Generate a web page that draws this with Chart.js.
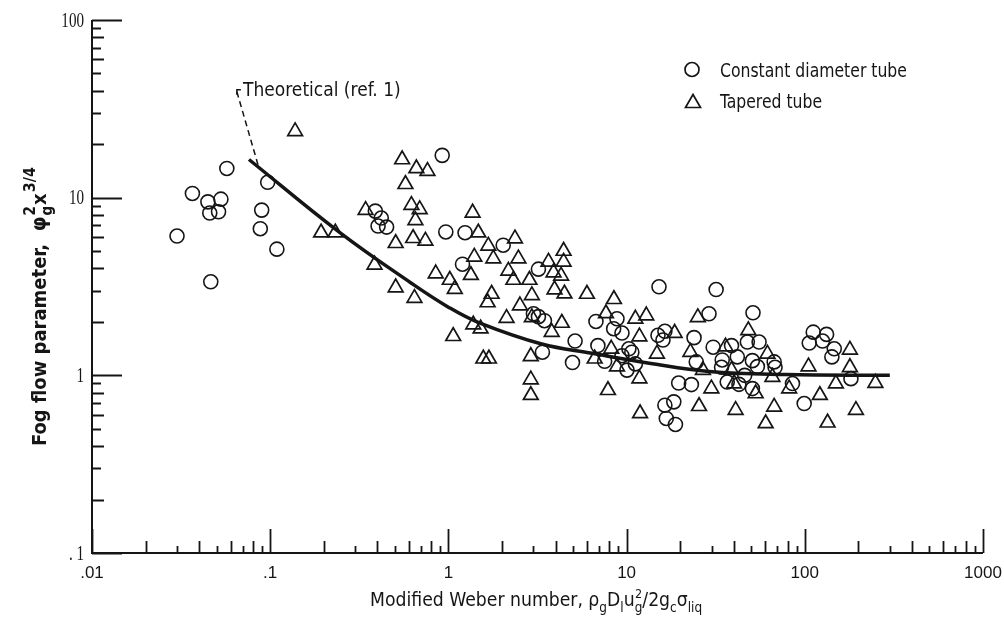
<!DOCTYPE html>
<html>
<head>
<meta charset="utf-8">
<script src="https://cdn.jsdelivr.net/npm/chart.js@4.4.1/dist/chart.umd.min.js"></script>
<style>
  html, body { margin: 0; padding: 0; background: #fff; }
  canvas { display: block; }
</style>
</head>
<body>
<canvas id="fog" width="1004" height="624"></canvas>
<script>
// Constant diameter tube (circles)
var constX = [0.030, 0.0366, 0.0447, 0.0529, 0.0458, 0.0513, 0.0571, 0.0464, 0.0968, 0.0896,
              0.088, 0.109, 0.389, 0.42, 0.403, 0.45, 0.923, 0.967, 1.24, 2.03,
              1.20, 3.20, 3.00, 3.20, 3.46, 5.14, 3.37, 4.97, 6.73, 8.83,
              8.46, 9.42, 6.90, 7.53, 10.3, 10.7, 9.42, 11.2, 10.05, 15.2,
              31.8, 29.0, 51.2, 15.0, 16.4, 16.0, 23.9, 30.6, 38.8, 41.8,
              34.4, 34.1, 47.6, 55.4, 50.8, 54.2, 67.3, 68.1, 46.0, 36.7,
              42.7, 50.8, 19.6, 23.1, 24.6, 85.3, 18.4, 16.4, 16.7, 18.8,
              99.2, 111.5, 132.5, 105.9, 125.8, 146.3, 141.9, 181.5];
var constY = [6.08, 10.56, 9.47, 9.81, 8.19, 8.33, 14.6, 3.36, 12.2, 8.51,
              6.69, 5.13, 8.40, 7.68, 6.92, 6.83, 17.3, 6.41, 6.35, 5.40,
              4.22, 3.96, 2.22, 2.14, 2.03, 1.56, 1.35, 1.18, 2.01, 2.08,
              1.83, 1.73, 1.47, 1.20, 1.41, 1.35, 1.29, 1.16, 1.07, 3.15,
              3.04, 2.22, 2.25, 1.68, 1.77, 1.58, 1.63, 1.44, 1.47, 1.27,
              1.22, 1.11, 1.54, 1.54, 1.21, 1.12, 1.19, 1.11, 1.00, 0.917,
              0.890, 0.842, 0.905, 0.887, 1.19, 0.899, 0.709, 0.679, 0.572, 0.529,
              0.694, 1.75, 1.70, 1.52, 1.56, 1.41, 1.27, 0.958];

// Tapered tube (triangles)
var taperX = [0.138, 0.550, 0.574, 0.620, 0.343, 0.193, 0.232, 0.506, 0.385, 0.506,
              0.661, 0.763, 0.690, 0.653, 0.634, 0.743, 1.367, 1.472, 1.675, 2.364,
              1.397, 1.787, 2.471, 0.849, 1.018, 1.086, 1.337, 1.748, 2.170, 2.316,
              2.849, 3.645, 4.43, 4.43, 3.89, 4.29, 3.94, 4.48, 5.99, 8.49,
              2.94, 0.645, 1.660, 2.52, 2.94, 2.12, 4.33, 3.80, 1.379, 1.516,
              1.064, 1.570, 1.688, 2.90, 2.90, 2.90, 7.66, 11.2, 12.9, 11.8,
              8.20, 6.62, 8.83, 11.8, 7.86, 11.9, 18.6, 25.1, 14.8, 22.8,
              48.2, 35.9, 61.7, 26.8, 38.8, 40.1, 65.8, 104.9, 179.1, 179.1,
              149.4, 249, 29.9, 53.0, 81.7, 121.5, 25.5, 40.9, 67.3, 193.6, 60.3, 134.2];
var taperY = [23.6, 16.4, 11.9, 9.08, 8.51, 6.35, 6.35, 5.54, 4.19, 3.12,
              14.6, 14.1, 8.59, 7.45, 5.91, 5.71, 8.22, 6.35, 5.35, 5.88,
              4.64, 4.54, 4.54, 3.74, 3.44, 3.06, 3.66, 2.87, 3.87, 3.44,
              3.44, 4.35, 5.01, 4.35, 3.79, 3.63, 3.04, 2.88, 2.87, 2.68,
              2.82, 2.72, 2.57, 2.47, 2.12, 2.10, 1.97, 1.75, 1.93, 1.83,
              1.66, 1.24, 1.24, 1.28, 0.946, 0.773, 2.23, 2.08, 2.17, 1.65,
              1.41, 1.24, 1.12, 0.958, 0.824, 0.610, 1.73, 2.12, 1.32, 1.35,
              1.79, 1.45, 1.32, 1.07, 1.07, 0.899, 0.978, 1.12, 1.39, 1.11,
              0.899, 0.905, 0.842, 0.790, 0.842, 0.773, 0.670, 0.637, 0.664, 0.637, 0.536, 0.541];

// Correlation curve and theoretical line (ref. 1)
var curveX = [0.076, 0.244, 0.62, 1.0, 1.48, 3.34, 6.4, 13.4, 29, 78, 300];
var curveY = [16.4, 6.4, 3.3, 2.42, 1.98, 1.5, 1.33, 1.17, 1.05, 1.01, 1.0];
var theoryX = [0.065, 0.0866];
var theoryY = [39.5, 14.6];

// Tick labels
var xTickVals = [0.01, 0.1, 1, 10, 100, 1000];
var xTickLabels = [".01", ".1", "1", "10", "100", "1000"];
var yTickVals = [0.1, 1, 10, 100];
var yTickLabels = [". 1", "1", "10", "100"];

function pairs(xs, ys) {
    return xs.map(function (x, i) { return { x: x, y: ys[i] }; });
}

var ink = "#151515";
var narrow = "'Liberation Sans Narrow', 'DejaVu Sans Condensed', 'Liberation Sans', sans-serif";

// draws axes with inward ticks, labels, titles, legend and the note
var decor = {
    id: "decor",
    afterDraw: function (chart) {
        var ctx = chart.ctx;
        var xs = chart.scales.x, ys = chart.scales.y;
        var left = xs.getPixelForValue(0.01), right = xs.getPixelForValue(1000);
        var bottom = ys.getPixelForValue(0.1), top = ys.getPixelForValue(100);
        ctx.save();
        ctx.strokeStyle = ink;
        ctx.fillStyle = ink;
        ctx.lineWidth = 2;
        ctx.lineCap = "butt";

        ctx.beginPath();
        ctx.moveTo(left, top);
        ctx.lineTo(left, bottom);
        ctx.lineTo(right, bottom);
        ctx.stroke();

        ctx.lineWidth = 1.8;
        ctx.beginPath();
        for (var e = -2; e <= 3; e++) {
            for (var m = 1; m <= 9; m++) {
                var v = m * Math.pow(10, e);
                if (v > 1000.0001) break;
                var px = Math.round(xs.getPixelForValue(v)) + 0.5;
                ctx.moveTo(px, bottom);
                ctx.lineTo(px, bottom - (m === 1 ? 24 : (m % 2 === 0 ? 12 : 7)));
            }
        }
        for (var e2 = -1; e2 <= 2; e2++) {
            for (var m2 = 1; m2 <= 9; m2++) {
                var v2 = m2 * Math.pow(10, e2);
                if (v2 > 100.0001) break;
                var py = Math.round(ys.getPixelForValue(v2)) + 0.5;
                ctx.moveTo(left, py);
                ctx.lineTo(left + (m2 === 1 ? 30 : (m2 % 2 === 0 ? 12 : 9)), py);
            }
        }
        ctx.stroke();

        // x tick labels
        ctx.font = "17px 'Liberation Sans', sans-serif";
        ctx.textAlign = "center";
        ctx.textBaseline = "alphabetic";
        xTickVals.forEach(function (v, i) {
            ctx.fillText(xTickLabels[i], xs.getPixelForValue(v), 578);
        });

        // y tick labels (condensed serif)
        ctx.font = "21px 'Liberation Serif', serif";
        ctx.textAlign = "right";
        ctx.textBaseline = "middle";
        yTickVals.forEach(function (v, i) {
            ctx.save();
            ctx.translate(84, ys.getPixelForValue(v));
            ctx.scale(0.72, 1);
            ctx.fillText(yTickLabels[i], 0, 1);
            ctx.restore();
        });

        // rich text: parts of [text, dy, size, dx]
        function rich(parts, x, y, bold) {
            var cx = x;
            parts.forEach(function (p) {
                ctx.font = (bold ? "bold " : "") + p[2] + "px " + narrow;
                cx += p[3] || 0;
                ctx.fillText(p[0], cx, y + p[1]);
                cx += ctx.measureText(p[0]).width;
            });
            return cx;
        }

        ctx.textAlign = "left";
        ctx.textBaseline = "alphabetic";

        // x title
        ctx.save();
        ctx.translate(370, 606);
        ctx.scale(0.96, 1);
        var uEnd = rich([["Modified Weber number, \u03c1", 0, 20], ["g", 6, 14], ["D", 0, 20], ["l", 6, 14],
                         ["u", 0, 20]], 0, 0, false);
        ctx.font = "13px " + narrow;
        ctx.fillText("2", uEnd + 0.5, -8);
        rich([["g", 6, 14], ["/2g", 0, 20], ["c", 6, 14], ["\u03c3", 0, 20], ["liq", 6, 14]], uEnd, 0, false);
        ctx.restore();

        // y title, rotated
        ctx.save();
        ctx.translate(46, 446);
        ctx.rotate(-Math.PI / 2);
        var phiEnd = rich([["Fog flow parameter,  ", 0, 20], ["\u03c6", 0, 21]], 0, 0, true);
        ctx.font = "bold 15px " + narrow;
        ctx.fillText("g", phiEnd + 1, 6);
        ctx.fillText("2", phiEnd + 1, -11);
        var afterG = phiEnd + 1 + ctx.measureText("g").width + 1;
        rich([["x", 0, 20], ["3/4", -11, 16, 1]], afterG, 0, true);
        ctx.restore();

        // note for theoretical curve
        var tx = xs.getPixelForValue(theoryX[0]), ty = ys.getPixelForValue(theoryY[0]);
        ctx.lineWidth = 1.5;
        ctx.beginPath();
        ctx.moveTo(tx, ty + 3);
        ctx.lineTo(tx, ty - 2);
        ctx.lineTo(tx + 4, ty - 2);
        ctx.stroke();
        ctx.font = "19px " + narrow;
        ctx.fillText("Theoretical (ref. 1)", 243, 96);

        // legend
        ctx.lineWidth = 1.7;
        ctx.beginPath();
        ctx.arc(692, 69.5, 7, 0, Math.PI * 2);
        ctx.stroke();
        ctx.beginPath();
        ctx.moveTo(693, 94.5);
        ctx.lineTo(700.5, 107.5);
        ctx.lineTo(685.5, 107.5);
        ctx.closePath();
        ctx.stroke();
        ctx.save();
        ctx.translate(720, 0);
        ctx.scale(0.87, 1);
        ctx.font = "20px " + narrow;
        ctx.fillText("Constant diameter tube", 0, 77);
        ctx.fillText("Tapered tube", 0, 108);
        ctx.restore();

        ctx.restore();
    }
};

new Chart(document.getElementById("fog").getContext("2d"), {
    type: "scatter",
    data: {
        datasets: [
            {
                label: "Constant diameter tube",
                data: pairs(constX, constY),
                pointStyle: "circle",
                pointRadius: 7,
                borderColor: ink,
                borderWidth: 1.6,
                backgroundColor: "rgba(0,0,0,0)"
            },
            {
                label: "Tapered tube",
                data: pairs(taperX, taperY),
                pointStyle: "triangle",
                pointRadius: 8.5,
                borderColor: ink,
                borderWidth: 1.7,
                backgroundColor: "rgba(0,0,0,0)"
            },
            {
                label: "Correlation",
                data: pairs(curveX, curveY),
                showLine: true,
                pointRadius: 0,
                borderColor: ink,
                borderWidth: 3.5,
                tension: 0.4,
                fill: false
            },
            {
                label: "Theoretical (ref. 1)",
                data: pairs(theoryX, theoryY),
                showLine: true,
                pointRadius: 0,
                borderColor: ink,
                borderWidth: 1.5,
                borderDash: [6, 4],
                fill: false
            }
        ]
    },
    options: {
        responsive: false,
        animation: false,
        devicePixelRatio: 1,
        layout: { padding: { left: 92, right: 21, top: 20, bottom: 71 } },
        scales: {
            x: { type: "logarithmic", min: 0.01, max: 1000, display: false },
            y: { type: "logarithmic", min: 0.1, max: 100, display: false }
        },
        plugins: {
            legend: { display: false },
            tooltip: { enabled: false }
        }
    },
    plugins: [decor]
});
</script>
</body>
</html>
